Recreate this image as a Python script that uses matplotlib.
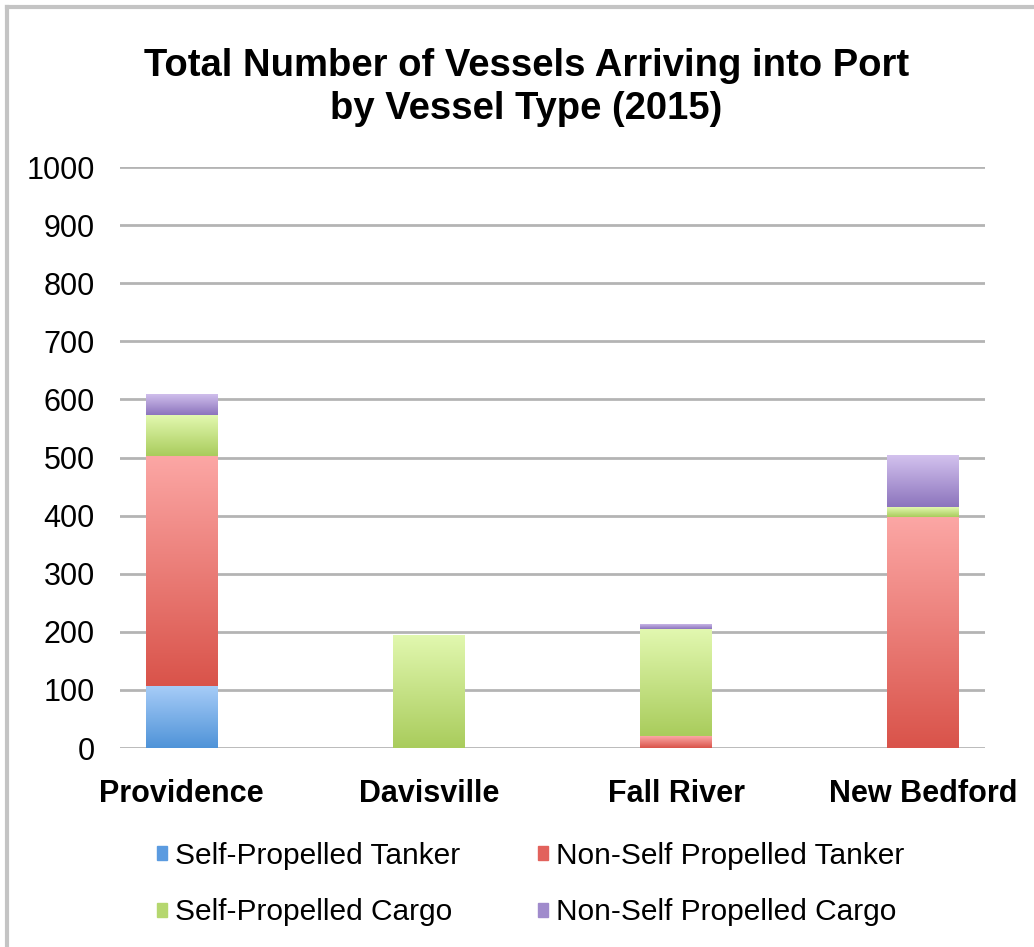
import numpy as np
import matplotlib
matplotlib.use("Agg")
import matplotlib.pyplot as plt
from matplotlib.colors import LinearSegmentedColormap
from matplotlib.patches import Rectangle
from matplotlib.lines import Line2D

plt.rcParams['font.family'] = ['Liberation Sans', 'DejaVu Sans']

ports = ['Providence', 'Davisville', 'Fall River', 'New Bedford']
series = ['Self-Propelled Tanker', 'Non-Self Propelled Tanker',
          'Self-Propelled Cargo', 'Non-Self Propelled Cargo']
sp_tanker = [107, 0, 0, 0]
nsp_tanker = [396, 0, 20, 398]
sp_cargo = [70, 195, 184, 17]
nsp_cargo = [37, 0, 9, 89]
yticks = [0, 100, 200, 300, 400, 500, 600, 700, 800, 900, 1000]

# (bottom colour, top colour) for each series gradient
grads = [('#4f93d8', '#a8cdf8'),
         ('#d9534a', '#fca7a5'),
         ('#a9cc5c', '#e2f8b0'),
         ('#8c74bd', '#d3c2ee')]
legend_cols = ['#5b9be0', '#e2625c', '#b5d76f', '#a08bcc']

fig = plt.figure(figsize=(10.34, 9.47), dpi=100)
ax = fig.add_axes([120 / 1034, 1 - 748 / 947, 865 / 1034, 581 / 947])

x = np.arange(len(ports))
width = 0.29
bottom = np.zeros(len(ports))
grad = np.linspace(0, 1, 256).reshape(-1, 1)
for vals, (c0, c1), name in zip([sp_tanker, nsp_tanker, sp_cargo, nsp_cargo],
                                grads, series):
    vals = np.array(vals, dtype=float)
    cmap = LinearSegmentedColormap.from_list(name, [c0, c1])
    bars = ax.bar(x, vals, width, bottom=bottom, color='none', edgecolor='none',
                  zorder=3)
    for b in bars:
        h = b.get_height()
        if h <= 0:
            continue
        im = ax.imshow(grad, cmap=cmap, origin='lower', aspect='auto',
                       extent=[b.get_x(), b.get_x() + b.get_width(),
                               b.get_y(), b.get_y() + h], zorder=3)
        im.set_clip_path(b)
    bottom += vals

ax.set_xlim(-0.25, 3.25)
ax.set_ylim(0, 1000)
ax.set_yticks(yticks)
ax.set_yticklabels([str(t) for t in yticks], fontsize=22)
ax.set_xticks(x)
ax.set_xticklabels(ports, fontsize=22, fontweight='bold')
ax.tick_params(length=0)
ax.tick_params(axis='y', pad=18)
ax.tick_params(axis='x', pad=22)
for s in ax.spines.values():
    s.set_visible(False)
ax.grid(axis='y', color='#b4b4b4', linewidth=2, zorder=0)
ax.set_axisbelow(True)

fig.suptitle('Total Number of Vessels Arriving into Port\nby Vessel Type (2015)',
             fontsize=27.5, fontweight='bold', x=0.509, y=0.949, linespacing=1.25)

# column-major order so rows read: tankers, then cargo
order = [0, 2, 1, 3]
handles = [Rectangle((0, 0), 1, 1, color=legend_cols[i]) for i in order]
fig.legend(handles, [series[i] for i in order], loc='upper left',
           bbox_to_anchor=(157 / 1034, 1 - 842 / 947),
           ncol=2, frameon=False, fontsize=21.5, handlelength=0.35,
           handleheight=0.35, handletextpad=0.25, columnspacing=2.6,
           labelspacing=0.95, borderpad=0, borderaxespad=0)

# frame of the chart area (left and top edges visible in the original crop)
fig.add_artist(Line2D([7 / 1034, 7 / 1034], [0, 1 - 7 / 947], transform=fig.transFigure,
                      color='#c4c4c4', linewidth=3))
fig.add_artist(Line2D([7 / 1034, 1], [1 - 7 / 947, 1 - 7 / 947], transform=fig.transFigure,
                      color='#c4c4c4', linewidth=3))

fig.savefig('out.png', dpi=100)
